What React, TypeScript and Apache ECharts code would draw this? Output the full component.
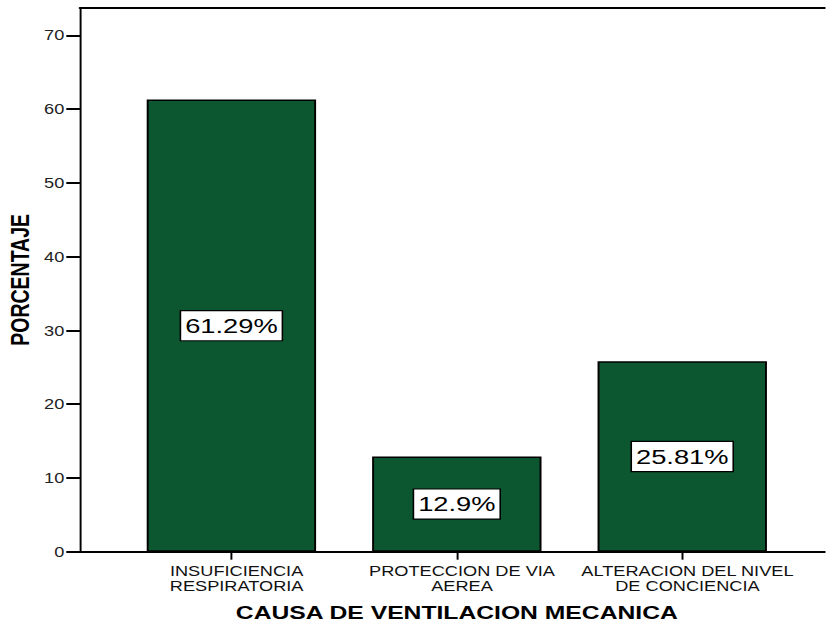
import React, { useEffect, useRef } from "react";
import * as echarts from "echarts";

const categories = [
  "INSUFICIENCIA\nRESPIRATORIA",
  "PROTECCION DE VIA\nAEREA",
  "ALTERACION DEL NIVEL\nDE CONCIENCIA",
];
const percentages = [61.29, 12.9, 25.81];
const yMin = 0;
const yMax = 73.7;
const yInterval = 10;
const xTitle = "CAUSA DE VENTILACION MECANICA";
const yTitle = "PORCENTAJE";

const STRETCH = 1.3;
const FONT = "'Liberation Sans', Arial, Helvetica, sans-serif";

export default function App() {
  const ref = useRef<HTMLDivElement>(null);

  useEffect(() => {
    if (!ref.current) return;
    const chart = echarts.init(ref.current, undefined, { renderer: "svg" });
    const gridTop = 8;
    const gridHeight = 543.7;
    const innerWidth = 826 / STRETCH;
    chart.setOption({
      animation: false,
      backgroundColor: "#ffffff",
      textStyle: { fontFamily: FONT },
      grid: [
        {
          left: 61.5,
          top: gridTop,
          width: innerWidth - 61.5,
          height: gridHeight,
          outerBoundsMode: "none",
          containLabel: false,
        },
        {
          left: 91.3,
          top: gridTop,
          width: 520.2,
          height: gridHeight,
          outerBoundsMode: "none",
          containLabel: false,
        },
      ],
      xAxis: [
        {
          gridIndex: 0,
          type: "value",
          min: 0,
          max: 1,
          position: "bottom",
          axisLine: { show: true, lineStyle: { color: "#000", width: 2 } },
          axisTick: { show: false },
          axisLabel: { show: false },
          splitLine: { show: false },
        },
        {
          gridIndex: 1,
          type: "category",
          data: categories,
          position: "bottom",
          axisLine: { show: true, lineStyle: { color: "#000", width: 2 } },
          axisTick: {
            show: true,
            alignWithLabel: true,
            length: 8,
            lineStyle: { color: "#000", width: 1.5 },
          },
          axisLabel: {
            interval: 0,
            fontSize: 14,
            lineHeight: 15,
            margin: 12,
            color: "#111",
            fontFamily: FONT,
            padding: [0, 0, 0, 8],
          },
          name: xTitle,
          nameLocation: "middle",
          nameGap: 51,
          nameMoveOverlap: false,
          nameTextStyle: {
            fontSize: 19,
            fontWeight: "bold",
            color: "#000",
            fontFamily: FONT,
          },
        },
        {
          gridIndex: 0,
          type: "value",
          min: 0,
          max: 1,
          position: "top",
          axisLine: { show: true, lineStyle: { color: "#000", width: 2 } },
          axisTick: { show: false },
          axisLabel: { show: false },
          splitLine: { show: false },
        },
      ],
      yAxis: [
        {
          gridIndex: 0,
          type: "value",
          min: yMin,
          max: yMax,
          interval: yInterval,
          axisLine: { show: true, lineStyle: { color: "#000", width: 1.5 } },
          axisTick: {
            show: true,
            length: 10.5,
            lineStyle: { color: "#000", width: 2 },
          },
          axisLabel: {
            fontSize: 14,
            margin: 12,
            color: "#222",
            fontFamily: FONT,
            showMaxLabel: false,
          },
          splitLine: { show: false },
          name: yTitle,
          nameLocation: "middle",
          nameGap: 36,
          nameMoveOverlap: false,
          nameTextStyle: {
            fontSize: 19.5,
            fontWeight: "bold",
            color: "#000",
            fontFamily: FONT,
          },
        },
        {
          gridIndex: 1,
          type: "value",
          min: yMin,
          max: yMax,
          show: false,
        },
      ],
      series: [
        {
          type: "bar",
          xAxisIndex: 1,
          yAxisIndex: 1,
          data: percentages,
          barWidth: 130.3,
          itemStyle: {
            color: "#0c5630",
            borderColor: "#000",
            borderWidth: 1.5,
          },
          label: {
            show: true,
            position: "inside",
            formatter: (p: any) => `${p.value}%`,
            fontSize: 21,
            lineHeight: 23,
            color: "#000",
            fontFamily: FONT,
            backgroundColor: "#fff",
            borderColor: "#000",
            borderWidth: 1.2,
            padding: [3, 3, 3, 3],
          },
        },
      ],
    });
    return () => chart.dispose();
  }, []);

  return (
    <div
      style={{
        position: "absolute",
        left: 0,
        top: 0,
        width: 826,
        height: 624,
        overflow: "hidden",
        background: "#fff",
      }}
    >
      <div
        ref={ref}
        style={{
          width: 826 / STRETCH,
          height: 624,
          transform: `scaleX(${STRETCH})`,
          transformOrigin: "0 0",
        }}
      />
    </div>
  );
}
